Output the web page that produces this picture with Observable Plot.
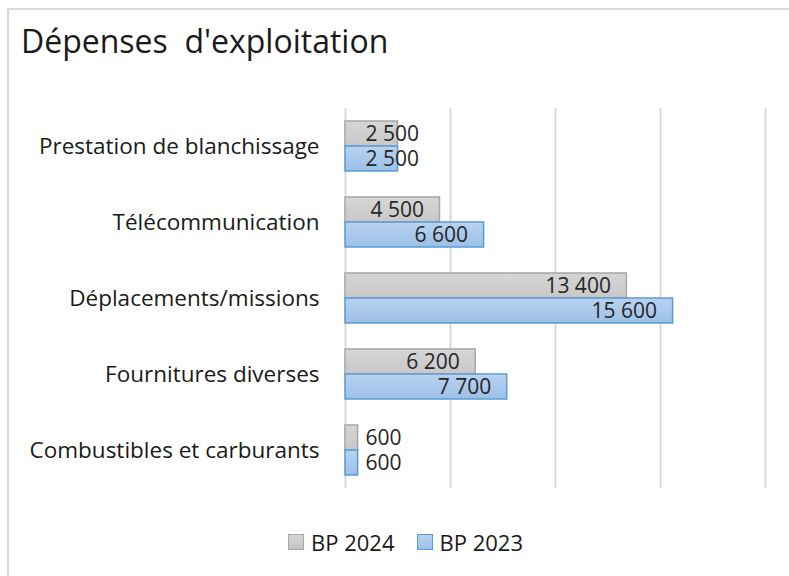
<!DOCTYPE html>
<html>
<head>
<meta charset="utf-8">
<script src="https://cdn.jsdelivr.net/npm/d3@7"></script>
<script src="https://cdn.jsdelivr.net/npm/@observablehq/plot@0.6"></script>
<style>
  html, body { margin: 0; padding: 0; background: #fff; overflow: hidden; }
  body { width: 789px; height: 576px; position: relative; font-family: "Open Sans", sans-serif; color: #1a1a1a; }
  #frame { position: absolute; left: 7px; top: 8px; width: 800px; height: 600px; border: 2px solid #d9d9d9; box-sizing: border-box; }
  #title { position: absolute; left: 21px; top: 19px; font-size: 32px; white-space: pre; line-height: 44px; }
  #chart { position: absolute; left: 0; top: 90px; }
  #legend { position: absolute; left: 0; width: 789px; top: 528px; display: flex; justify-content: center; font-size: 22px; line-height: 28px; padding-left: 22px; box-sizing: border-box; }
  .item { display: flex; align-items: center; margin: 0 11px; }
  .sw { width: 14px; height: 14px; margin-right: 7px; border: 1.5px solid; }
</style>
</head>
<body>
<div id="frame"></div>
<div id="title">Dépenses  d'exploitation</div>
<div id="chart"></div>
<div id="legend"></div>
<script>
const categories = ["Prestation de blanchissage", "Télécommunication", "Déplacements/missions", "Fournitures diverses", "Combustibles et carburants"];
const series = ["BP 2024", "BP 2023"];
const bp2024 = [2500, 4500, 13400, 6200, 600];
const bp2023 = [2500, 6600, 15600, 7700, 600];
const gridTicks = [0, 5000, 10000, 15000, 20000];

const fills = {"BP 2024": "url(#gGrey)", "BP 2023": "url(#gBlue)"};
const strokes = {"BP 2024": "#a6a6a6", "BP 2023": "#5b9bd5"};

const data = [];
categories.forEach((c, i) => {
  data.push({category: c, series: "BP 2024", value: bp2024[i]});
  data.push({category: c, series: "BP 2023", value: bp2023[i]});
});

const fmt = d3.formatLocale({decimal: ",", thousands: "\u00a0", grouping: [3], currency: ["", " €"]}).format(",");

const chart = Plot.plot({
  width: 789,
  height: 409,
  marginLeft: 345,
  marginRight: 24,
  marginTop: 16,
  marginBottom: 10,
  style: {fontSize: "22.5px", fontFamily: "'Open Sans', sans-serif", color: "#1a1a1a", background: "transparent"},
  x: {domain: [0, 20000], axis: null},
  y: {domain: series, axis: null, paddingInner: 0, paddingOuter: 0.47},
  fy: {domain: categories, padding: 0, axis: "left", label: null, tickSize: 0, tickPadding: 26},
  marks: [
    Plot.ruleX(gridTicks, {x: d => d, stroke: "#d9d9d9", strokeWidth: 2, strokeOpacity: 1}),
    Plot.barX(data, {
      fy: "category", y: "series", x: "value",
      fill: d => fills[d.series], stroke: d => strokes[d.series],
      strokeWidth: 1.5, inset: 0
    }),
    Plot.text(data.filter(d => d.value >= 4000), {
      fy: "category", y: "series", x: "value", text: d => fmt(d.value),
      textAnchor: "end", dx: -16, fontSize: 21, fill: "#262626"
    }),
    Plot.text(data.filter(d => d.value < 4000), {
      fy: "category", y: "series", x: () => 0, text: d => fmt(d.value),
      textAnchor: "start", dx: 20, fontSize: 21, fill: "#262626"
    })
  ]
});

const defs = d3.select(chart).insert("defs", ":first-child");
const gGrey = defs.append("linearGradient").attr("id", "gGrey").attr("x1", 0).attr("y1", 0).attr("x2", 0).attr("y2", 1);
gGrey.append("stop").attr("offset", "0%").attr("stop-color", "#d6d6d6");
gGrey.append("stop").attr("offset", "100%").attr("stop-color", "#c8c8c8");
const gBlue = defs.append("linearGradient").attr("id", "gBlue").attr("x1", 0).attr("y1", 0).attr("x2", 0).attr("y2", 1);
gBlue.append("stop").attr("offset", "0%").attr("stop-color", "#b9d3f0");
gBlue.append("stop").attr("offset", "100%").attr("stop-color", "#9cc0e8");

document.getElementById("chart").appendChild(chart);

const legend = document.getElementById("legend");
const legendFill = {"BP 2024": "linear-gradient(#d6d6d6, #c4c4c4)", "BP 2023": "linear-gradient(#b9d3f0, #9cc0e8)"};
series.forEach(s => {
  const item = document.createElement("div");
  item.className = "item";
  const sw = document.createElement("span");
  sw.className = "sw";
  sw.style.background = legendFill[s];
  sw.style.borderColor = strokes[s];
  const t = document.createElement("span");
  t.textContent = s;
  item.appendChild(sw);
  item.appendChild(t);
  legend.appendChild(item);
});
</script>
</body>
</html>
